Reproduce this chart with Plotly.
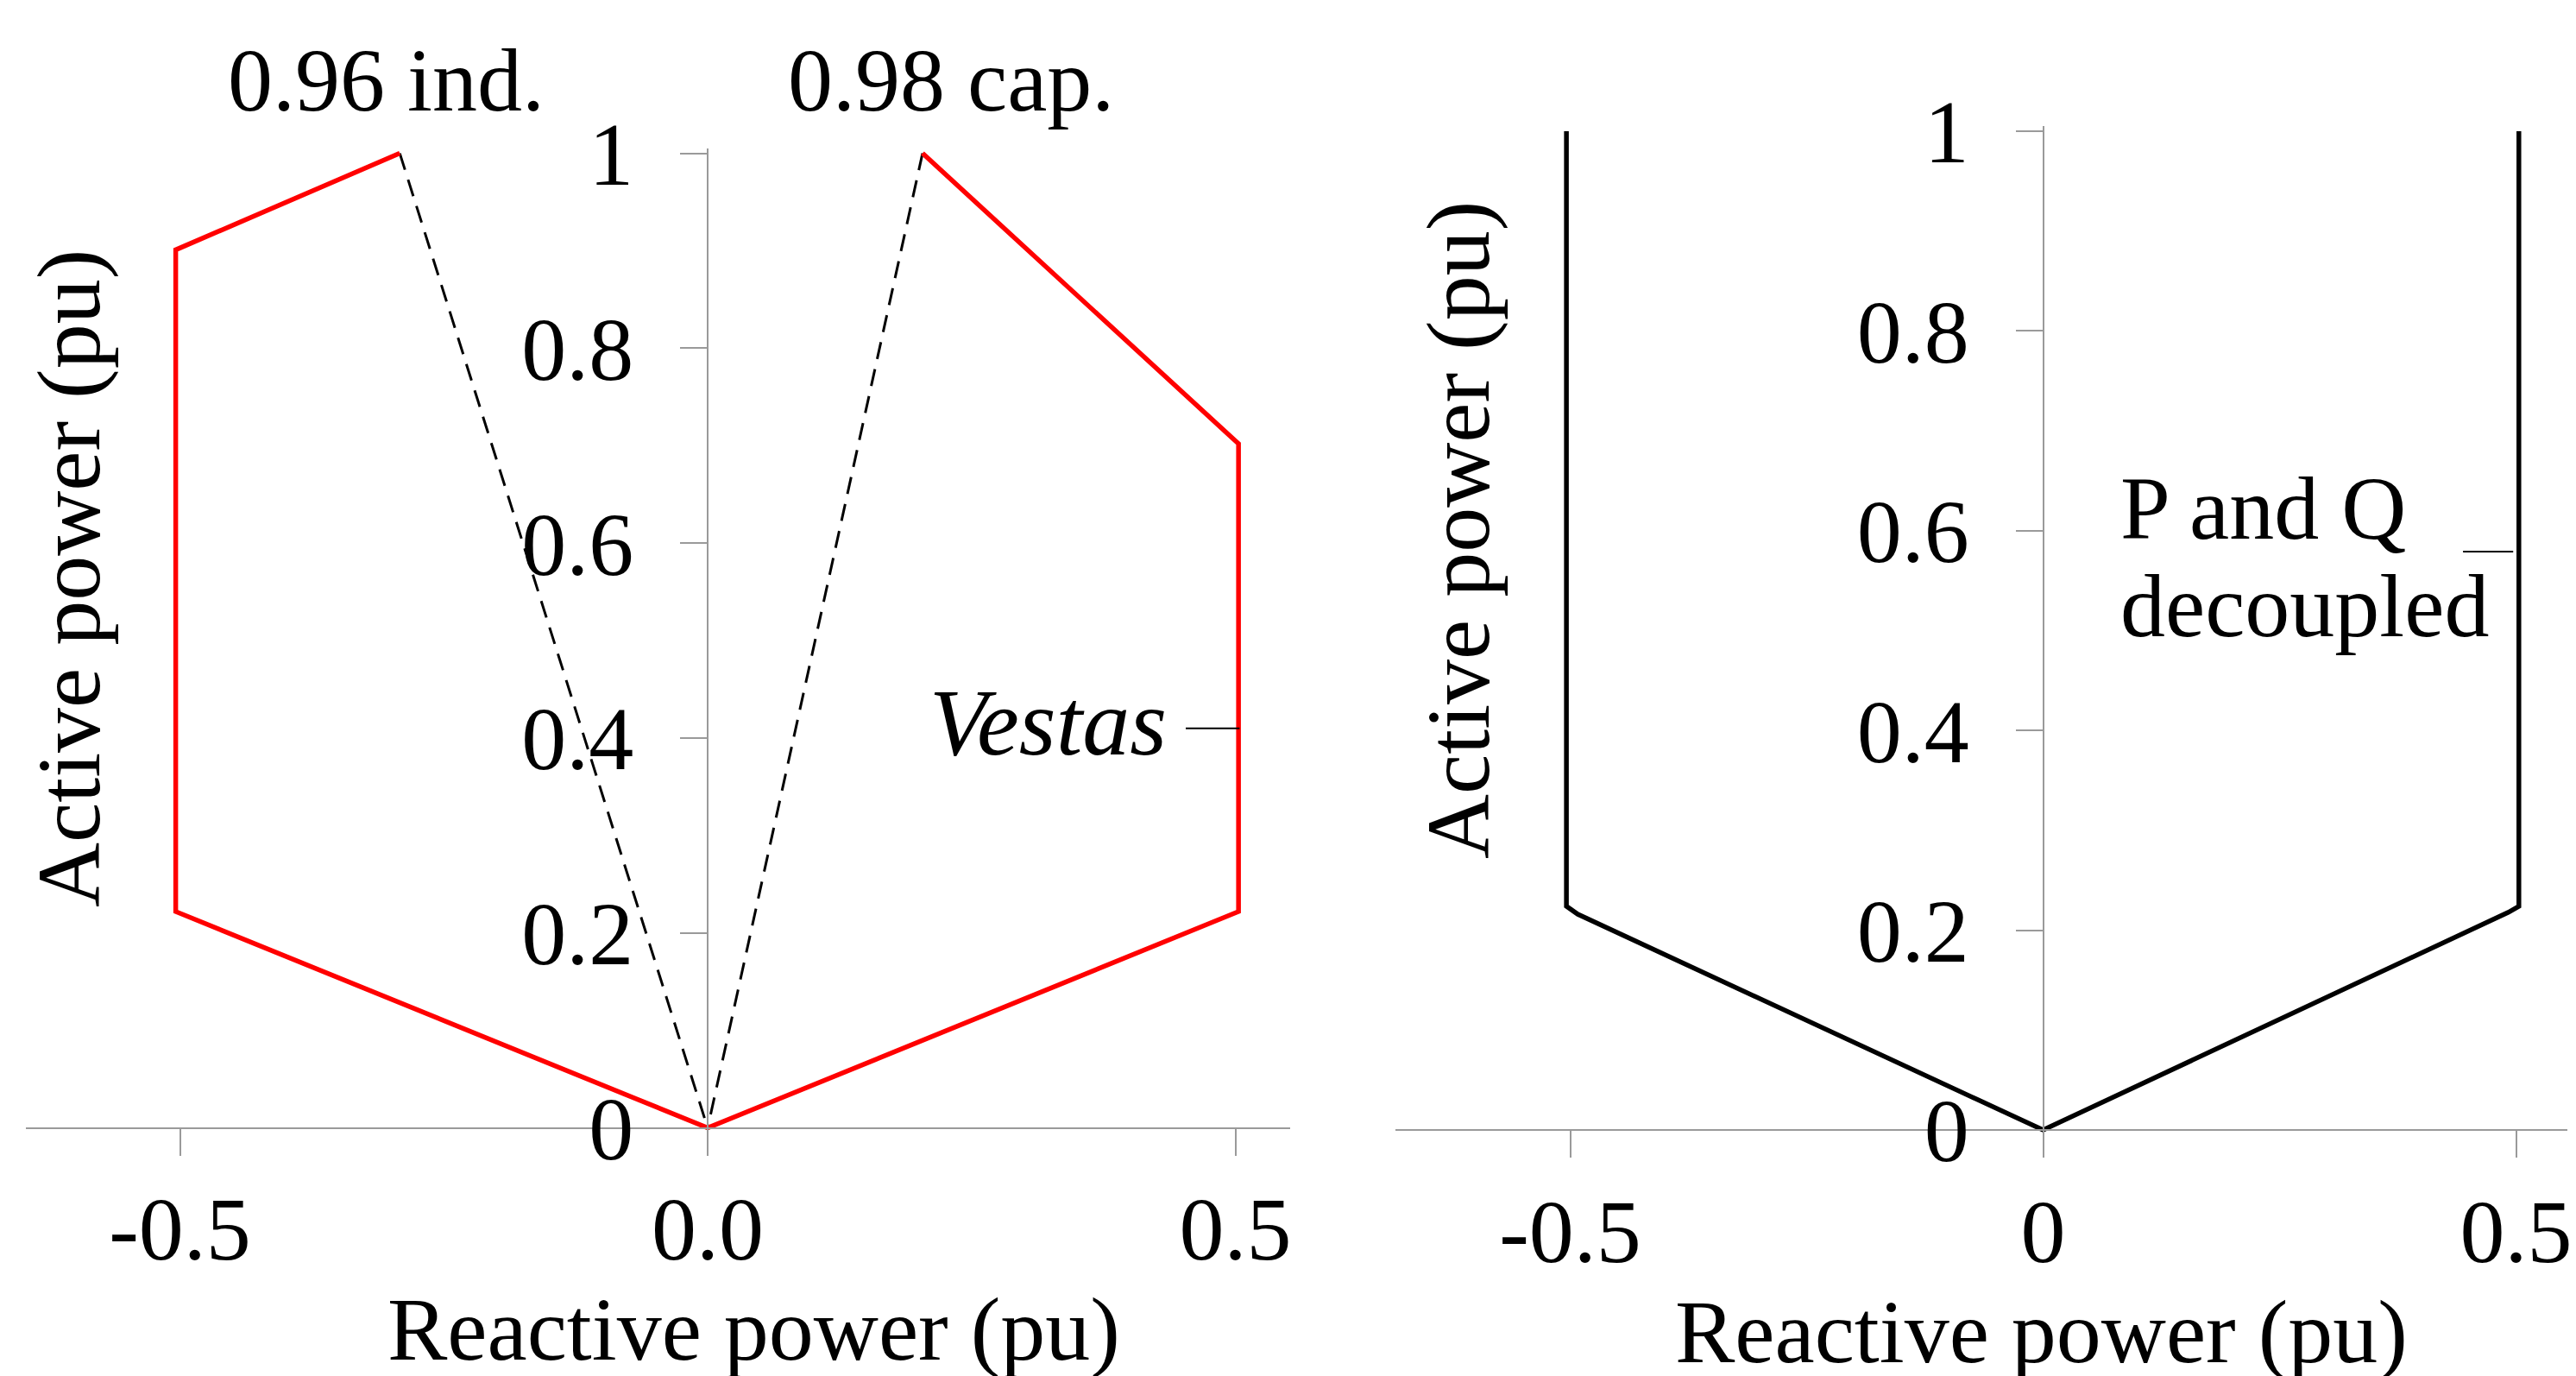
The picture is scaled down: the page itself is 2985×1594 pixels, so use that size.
import plotly.graph_objects as go

W, H = 2985, 1594

# ---------------- data ----------------
# Left panel: Vestas capability curve (Q, P in pu)
vestas_q = [-0.2917, -0.504, -0.504, 0.0, 0.503, 0.503, 0.2036]
vestas_p = [1.0, 0.901, 0.222, 0.0, 0.222, 0.702, 1.0]
# power-factor limit lines
pf_ind_q = [-0.2917, 0.0]
pf_ind_p = [1.0, 0.0]
pf_cap_q = [0.2036, 0.0]
pf_cap_p = [1.0, 0.0]
# leader line of the "Vestas" label
vestas_leader_q = [0.453, 0.504]
vestas_leader_p = [0.41, 0.41]

# Right panel: P and Q decoupled
dec_q = [-0.504, -0.504, -0.492, 0.0, 0.492, 0.503, 0.503]
dec_p = [1.0, 0.224, 0.216, 0.0, 0.218, 0.224, 1.0]
dec_leader_q = [0.444, 0.497]
dec_leader_p = [0.579, 0.579]

# ticks
x_tickvals = [-0.5, 0.0, 0.5]
x_ticktext_left = ["-0.5", "0.0", "0.5"]
x_ticktext_right = ["-0.5", "0", "0.5"]
y_tickvals = [0, 0.2, 0.4, 0.6, 0.8, 1.0]
y_ticktext = ["0", "0.2", "0.4", "0.6", "0.8", "1"]

# labels
x_title = "Reactive power (pu)"
y_title = "Active power (pu)"
label_ind = "0.96 ind."
label_cap = "0.98 cap."
label_vestas = "<i>Vestas</i>"
label_dec1 = "P and Q"
label_dec2 = "decoupled"

# ---------------- layout geometry (pixels) ----------------
FONT = "Liberation Serif, Times New Roman, serif"
FS = 104
GRAY = "#9a9a9a"

def panel(x0px, xscale, xdom_px, y0px, yscale, yrange):
    xr = [(xdom_px[0] - x0px) / xscale, (xdom_px[1] - x0px) / xscale]
    xdom = [xdom_px[0] / W, xdom_px[1] / W]
    top_px = y0px - yrange[1] * yscale
    bot_px = y0px - yrange[0] * yscale
    ydom = [(H - bot_px) / H, (H - top_px) / H]
    return xr, xdom, ydom, x0px / W, (H - y0px) / H

L = dict(x0px=820, xscale=1223, xdom_px=(30, 1495), y0px=1306.6, yscale=1129, yrange=[-0.005, 1.005])
R = dict(x0px=2367.5, xscale=1096, xdom_px=(1617, 2975), y0px=1309, yscale=1157, yrange=[-0.005, 1.005])

xrL, xdomL, ydomL, yposL, xposL = panel(**L)
xrR, xdomR, ydomR, yposR, xposR = panel(**R)

fig = go.Figure()

fig.add_trace(go.Scatter(x=pf_ind_q, y=pf_ind_p, mode="lines", xaxis="x", yaxis="y",
                         line=dict(color="black", width=3, dash="20px,12px")))
fig.add_trace(go.Scatter(x=pf_cap_q, y=pf_cap_p, mode="lines", xaxis="x", yaxis="y",
                         line=dict(color="black", width=3, dash="20px,12px")))
fig.add_trace(go.Scatter(x=vestas_q, y=vestas_p, mode="lines", xaxis="x", yaxis="y",
                         line=dict(color="#ff0000", width=5.5)))
fig.add_trace(go.Scatter(x=vestas_leader_q, y=vestas_leader_p, mode="lines", xaxis="x", yaxis="y",
                         line=dict(color="black", width=2)))

fig.add_trace(go.Scatter(x=dec_q, y=dec_p, mode="lines", xaxis="x2", yaxis="y2",
                         line=dict(color="black", width=5.5)))
fig.add_trace(go.Scatter(x=dec_leader_q, y=dec_leader_p, mode="lines", xaxis="x2", yaxis="y2",
                         line=dict(color="black", width=2)))

tickfont = dict(family=FONT, size=FS, color="black")

def xax(rng, dom, pos, ticktext):
    return dict(range=rng, domain=dom, anchor="free", position=pos, automargin=False,
                showgrid=False, zeroline=False, showline=True, linecolor=GRAY, linewidth=2,
                ticks="outside", ticklen=31, tickwidth=2, tickcolor=GRAY,
                tickvals=x_tickvals, ticktext=ticktext, tickfont=tickfont,
                ticklabelstandoff=-4, fixedrange=True)

def yax(rng, dom, pos):
    return dict(range=rng, domain=dom, anchor="free", position=pos, automargin=False,
                showgrid=False, zeroline=False, showline=True, linecolor=GRAY, linewidth=2,
                ticks="outside", ticklen=31, tickwidth=2, tickcolor=GRAY,
                tickvals=y_tickvals, ticktext=y_ticktext, tickfont=tickfont,
                ticklabelstandoff=33, fixedrange=True)

def ann(text, x, y, xref, yref, xanchor="center", angle=0, size=FS):
    return dict(text=text, x=x, y=y, xref=xref, yref=yref, xanchor=xanchor, yanchor="middle",
                showarrow=False, textangle=angle, font=dict(family=FONT, size=size, color="black"))

def px(xp, yp):
    return xp / W, (H - yp) / H

annotations = [
    ann(label_ind, *px(447.5, 92), "paper", "paper"),
    ann(label_cap, *px(1101.5, 92), "paper", "paper"),
    ann(label_vestas, 0.4366, 0.416, "x", "y", xanchor="right", size=110),
    ann(label_dec1, 0.0794, 0.623, "x2", "y2", xanchor="left"),
    ann(label_dec2, 0.0794, 0.525, "x2", "y2", xanchor="left"),
    ann(x_title, *px(873, 1540), "paper", "paper"),
    ann(x_title, *px(2365, 1543), "paper", "paper"),
    ann(y_title, *px(80, 670), "paper", "paper", angle=-90),
    ann(y_title, *px(1690, 614), "paper", "paper", angle=-90),
]

fig.update_layout(
    width=W, height=H, autosize=False,
    margin=dict(l=0, r=0, t=0, b=0, pad=0, autoexpand=False),
    paper_bgcolor="white", plot_bgcolor="rgba(0,0,0,0)",
    showlegend=False,
    font=dict(family=FONT, size=FS, color="black"),
    xaxis=xax(xrL, xdomL, xposL, x_ticktext_left),
    yaxis=yax(L["yrange"], ydomL, yposL),
    xaxis2=xax(xrR, xdomR, xposR, x_ticktext_right),
    yaxis2=yax(R["yrange"], ydomR, yposR),
    annotations=annotations,
)

fig.write_html("out.html", config={"displayModeBar": False},
               post_script="document.body.style.margin='0';document.body.style.overflow='hidden';")
